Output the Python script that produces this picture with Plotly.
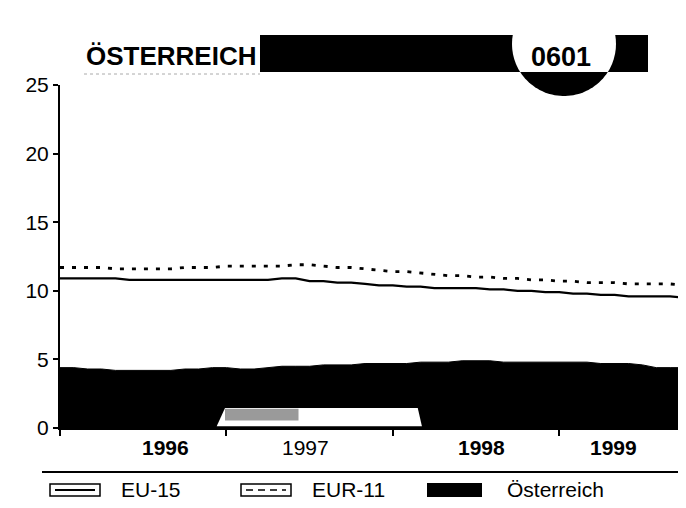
import numpy as np
import plotly.graph_objects as go

# monthly data, Jan 1996 .. Oct 1999 (index 0..45)
months = list(range(46))

eu15 = [10.9, 10.9, 10.9, 10.9, 10.9, 10.8, 10.8, 10.8, 10.8, 10.8, 10.8, 10.8,
        10.8, 10.8, 10.8, 10.8, 10.9, 10.9, 10.7, 10.7, 10.6, 10.6, 10.5, 10.4,
        10.4, 10.3, 10.3, 10.2, 10.2, 10.2, 10.2, 10.1, 10.1, 10.0, 10.0, 9.9,
        9.9, 9.8, 9.8, 9.7, 9.7, 9.6, 9.6, 9.6, 9.6, 9.5]

eur11 = [11.7, 11.7, 11.7, 11.7, 11.6, 11.6, 11.6, 11.6, 11.6, 11.7, 11.7, 11.7,
         11.8, 11.8, 11.8, 11.8, 11.8, 11.9, 11.9, 11.8, 11.7, 11.7, 11.6, 11.5,
         11.4, 11.4, 11.3, 11.2, 11.1, 11.1, 11.0, 11.0, 10.9, 10.9, 10.8, 10.8,
         10.7, 10.7, 10.6, 10.6, 10.6, 10.5, 10.5, 10.5, 10.5, 10.4]

oesterreich = [4.4, 4.4, 4.3, 4.3, 4.2, 4.2, 4.2, 4.2, 4.2, 4.3, 4.3, 4.4,
               4.4, 4.3, 4.3, 4.4, 4.5, 4.5, 4.5, 4.6, 4.6, 4.6, 4.7, 4.7,
               4.7, 4.7, 4.8, 4.8, 4.8, 4.9, 4.9, 4.9, 4.8, 4.8, 4.8, 4.8,
               4.8, 4.8, 4.8, 4.7, 4.7, 4.7, 4.6, 4.4, 4.4, 4.4]

year_ticks = [0, 12, 24, 36]
year_labels = ["<b>1996</b>", "1997", "<b>1998</b>", "<b>1999</b>"]
year_label_pos = [7.6, 17.7, 30.4, 39.9]

y_ticks = [0, 5, 10, 15, 20, 25]

FONT = "Liberation Sans, Arial, sans-serif"

# the page body adds an 8px margin, so the figure is 8px smaller
# pixel -> paper helpers (plot area on the page: x 60..684, y 85..428)
def px(x):
    return (x - 60) / 624.0

def py(y):
    return (428 - y) / 343.0


fig = go.Figure()

fig.add_trace(go.Scatter(
    x=months, y=oesterreich, mode="lines", fill="tozeroy",
    fillcolor="black", line=dict(color="black", width=1),
    name="Österreich", showlegend=False,
))
fig.add_trace(go.Scatter(
    x=months, y=eu15, mode="lines",
    line=dict(color="black", width=2.3),
    name="EU-15", showlegend=False,
))
fig.add_trace(go.Scatter(
    x=months, y=eur11, mode="lines",
    line=dict(color="black", width=2.8, dash="4px,8px"),
    name="EUR-11", showlegend=False,
))

shapes = []

# scan smudge on the area
shapes.append(dict(type="path", xref="x", yref="y", layer="above",
                   path="M 11.3,0.12 L 11.9,1.45 L 25.8,1.45 L 26.1,0.12 Z",
                   fillcolor="white", line=dict(width=0)))
shapes.append(dict(type="rect", xref="x", yref="y", layer="above",
                   x0=11.9, x1=17.2, y0=0.55, y1=1.4,
                   fillcolor="#9a9a9a", line=dict(width=0)))

# header bar with the badge
shapes.append(dict(type="rect", xref="paper", yref="paper", layer="below",
                   x0=px(260), x1=px(648), y0=py(72), y1=py(35),
                   fillcolor="black", line=dict(width=0)))
cx, cy, r = 564, 44, 52
shapes.append(dict(type="circle", xref="paper", yref="paper", layer="below",
                   x0=px(cx - r), x1=px(cx + r), y0=py(cy + r), y1=py(cy - r),
                   fillcolor="white", line=dict(width=0)))
a = np.arccos((72 - cy) / r)
th = np.linspace(-a, a, 40)
pts = [(px(cx + r * np.sin(t)), py(cy + r * np.cos(t))) for t in th]
path = "M " + " L ".join(f"{x:.4f},{y:.4f}" for x, y in pts) + " Z"
shapes.append(dict(type="path", xref="paper", yref="paper", layer="below",
                   path=path, fillcolor="black", line=dict(width=0)))
shapes.append(dict(type="line", xref="paper", yref="paper",
                   x0=px(84), x1=px(260), y0=py(74), y1=py(74),
                   line=dict(color="#aaaaaa", width=1, dash="dot")))

# legend
shapes.append(dict(type="line", xref="paper", yref="paper",
                   x0=px(42), x1=px(686), y0=py(472), y1=py(472),
                   line=dict(color="black", width=2)))
shapes.append(dict(type="rect", xref="paper", yref="paper",
                   x0=px(50), x1=px(100), y0=py(496), y1=py(484),
                   line=dict(color="black", width=1.5)))
shapes.append(dict(type="line", xref="paper", yref="paper",
                   x0=px(55), x1=px(95), y0=py(490), y1=py(490),
                   line=dict(color="black", width=2)))
shapes.append(dict(type="rect", xref="paper", yref="paper",
                   x0=px(241), x1=px(291), y0=py(496), y1=py(484),
                   line=dict(color="black", width=1.5)))
shapes.append(dict(type="line", xref="paper", yref="paper",
                   x0=px(246), x1=px(286), y0=py(490), y1=py(490),
                   line=dict(color="black", width=1.5, dash="7px,5px")))
shapes.append(dict(type="rect", xref="paper", yref="paper",
                   x0=px(427), x1=px(482), y0=py(497), y1=py(483),
                   fillcolor="black", line=dict(width=0)))

annotations = []
for pos, lab in zip(year_label_pos, year_labels):
    annotations.append(dict(x=pos, y=py(447), xref="x", yref="paper",
                            xanchor="center", yanchor="middle",
                            text=lab, showarrow=False,
                            font=dict(family=FONT, size=21, color="black")))
for x0, lab in [(119, "EU-15"), (310, "EUR-11"), (505, "Österreich")]:
    annotations.append(dict(x=px(x0), y=py(490), xref="paper", yref="paper",
                            xanchor="left", yanchor="middle",
                            text=lab, showarrow=False,
                            font=dict(family=FONT, size=21, color="black")))
annotations.append(dict(x=px(84), y=py(56), xref="paper", yref="paper",
                        xanchor="left", yanchor="middle",
                        text="<b>ÖSTERREICH</b>", showarrow=False,
                        font=dict(family=FONT, size=26, color="black")))
annotations.append(dict(x=px(561), y=py(57), xref="paper", yref="paper",
                        xanchor="center", yanchor="middle",
                        text="<b>0601</b>", showarrow=False,
                        font=dict(family=FONT, size=27, color="black")))

fig.update_layout(
    width=678, height=500,
    margin=dict(l=52, r=2, t=77, b=80, autoexpand=False),
    paper_bgcolor="white", plot_bgcolor="white",
    font=dict(family=FONT, size=21, color="black"),
    shapes=shapes, annotations=annotations,
)
fig.update_xaxes(range=[0, 45], tickvals=year_ticks, showticklabels=False,
                 ticks="outside", ticklen=6, tickwidth=1.5, tickcolor="black",
                 showline=True, linecolor="black", linewidth=2,
                 showgrid=False, zeroline=False, automargin=False)
fig.update_yaxes(range=[0, 25], tickvals=y_ticks, ticks="outside",
                 ticklen=5, tickwidth=1.5, tickcolor="black",
                 showline=True, linecolor="black", linewidth=2,
                 showgrid=False, zeroline=False, automargin=False,
                 tickfont=dict(family=FONT, size=21, color="black"))

fig.write_html("out.html")
